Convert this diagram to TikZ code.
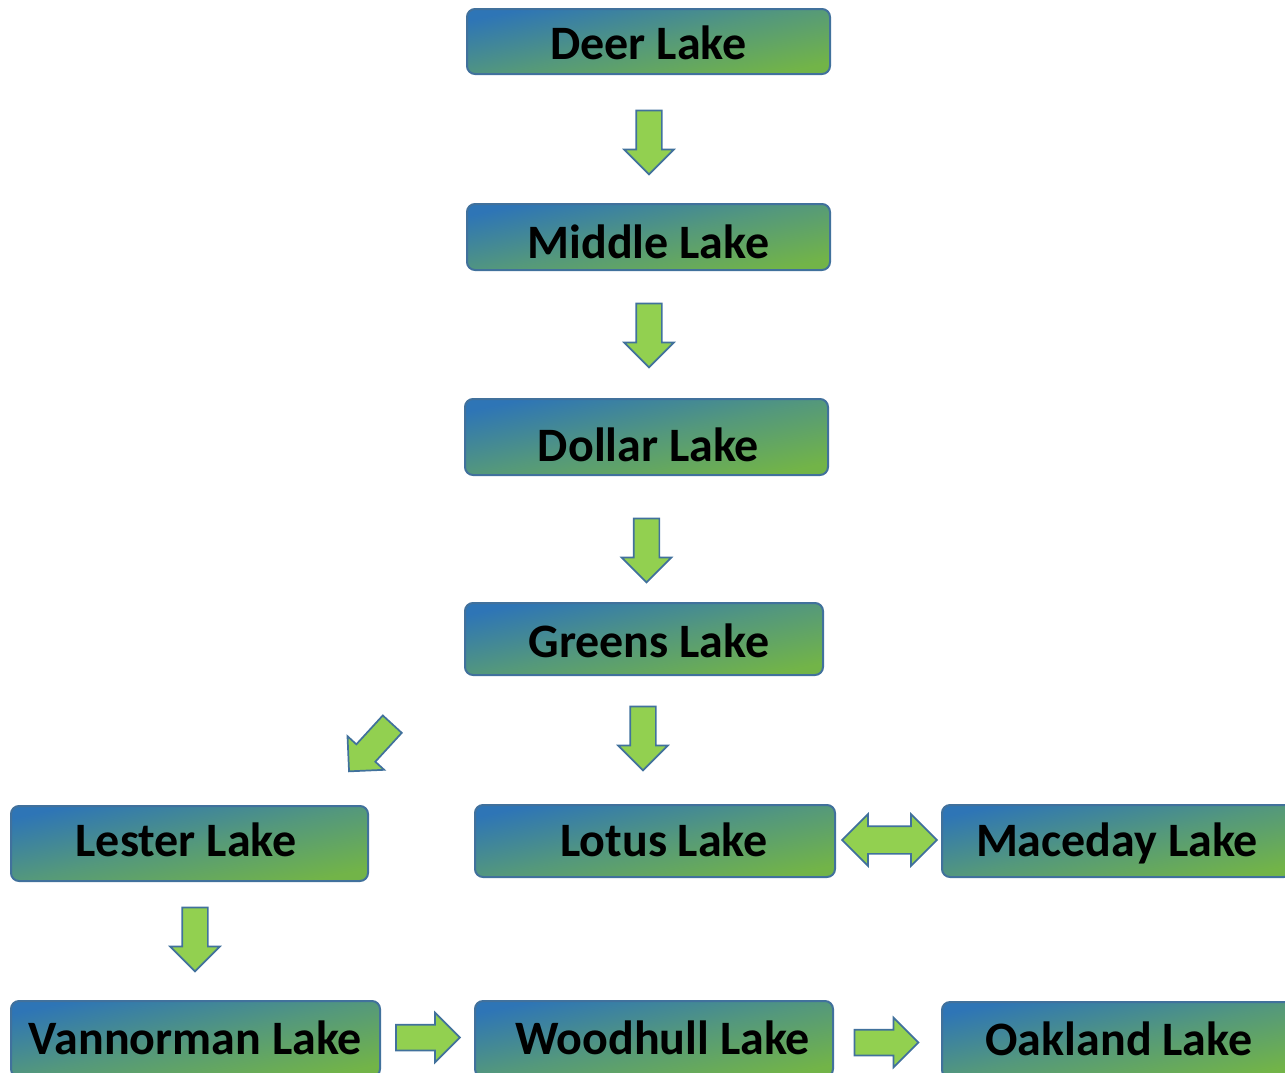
\documentclass[tikz,border=0pt]{standalone}
\usepackage{fontspec}
\setmainfont{Carlito}
\usetikzlibrary{shapes.arrows}
\definecolor{boxblue}{RGB}{46,117,182}
\definecolor{boxmid}{RGB}{84,152,124}
\definecolor{boxgreen}{RGB}{114,180,72}
\definecolor{edgeblue}{RGB}{65,113,156}
\definecolor{arrowgreen}{RGB}{146,208,80}
\tikzset{
  lakebox/.style={draw=edgeblue, line width=1.5pt, rounded corners=6pt,
    top color=boxblue, bottom color=boxgreen, middle color=boxmid, shading angle=12,
    inner sep=0pt, text=black, text height=23.2pt, text depth=0pt,
    font=\bfseries\fontsize{36}{40}\selectfont},
  blockarrow/.style={single arrow, draw=edgeblue, fill=arrowgreen, line width=1.3pt,
    inner sep=9pt, minimum width=36pt, minimum height=48pt, single arrow head extend=9pt},
  twoarrow/.style={double arrow, draw=edgeblue, fill=arrowgreen, line width=1.3pt,
    inner sep=9.75pt, minimum width=37.5pt, minimum height=71pt, double arrow head extend=9pt}
}
\begin{document}
\begin{tikzpicture}[x=0.75pt,y=-0.75pt]
\useasboundingbox (0,0) rectangle (1285,1072);
\clip (0,0) rectangle (1285,1072);
% boxes
\node[lakebox, minimum width=272.25pt, minimum height=48.75pt, text height=26.95pt] (deer) at (648.5,41.5) {Deer Lake};
\node[lakebox, minimum width=272.25pt, minimum height=49.5pt, text height=32.95pt] (middle) at (648.5,237) {Middle Lake};
\node[lakebox, minimum width=272.25pt, minimum height=57pt, text height=36.7pt] (dollar) at (646.5,437) {\hspace*{3pt}Dollar Lake};
\node[lakebox, minimum width=268.5pt, minimum height=54pt, text height=28.45pt] (greens) at (644,639) {\hspace*{7.5pt}Greens Lake};
\node[lakebox, minimum width=267.75pt, minimum height=56.25pt, text depth=3pt] (lester) at (189.5,843.5) {Lester Lake\hspace*{5pt}};
\node[lakebox, minimum width=270pt, minimum height=54pt] (lotus) at (655,841) {\hspace*{13.5pt}Lotus Lake};
\node[lakebox, minimum width=262.5pt, minimum height=54pt] (maceday) at (1117,841) {Maceday Lake};
\node[lakebox, minimum width=276.75pt, minimum height=57pt] (vannorman) at (195.5,1039) {Vannorman Lake};
\node[lakebox, minimum width=268.5pt, minimum height=57pt] (woodhull) at (654,1039) {\hspace*{12.75pt}Woodhull Lake};
\node[lakebox, minimum width=262.5pt, minimum height=57pt] (oakland) at (1117,1040) {\hspace*{3pt}Oakland Lake};
% arrows
\node[blockarrow, shape border rotate=270] (a1) at (649,136) {};
\node[blockarrow, shape border rotate=270] (a2) at (649,329) {};
\node[blockarrow, shape border rotate=270] (a3) at (646.5,544) {};
\node[blockarrow, shape border rotate=270] (a4) at (643,732) {};
\node[blockarrow, rotate=227.5] (a5) at (375,743) {};
\node[blockarrow, shape border rotate=270] (a6) at (195,933) {};
\node[blockarrow] (a7) at (421.5,1037.5) {};
\node[blockarrow] (a8) at (880,1042.5) {};
\node[twoarrow] (a9) at (889.5,840) {};
\end{tikzpicture}
\end{document}
